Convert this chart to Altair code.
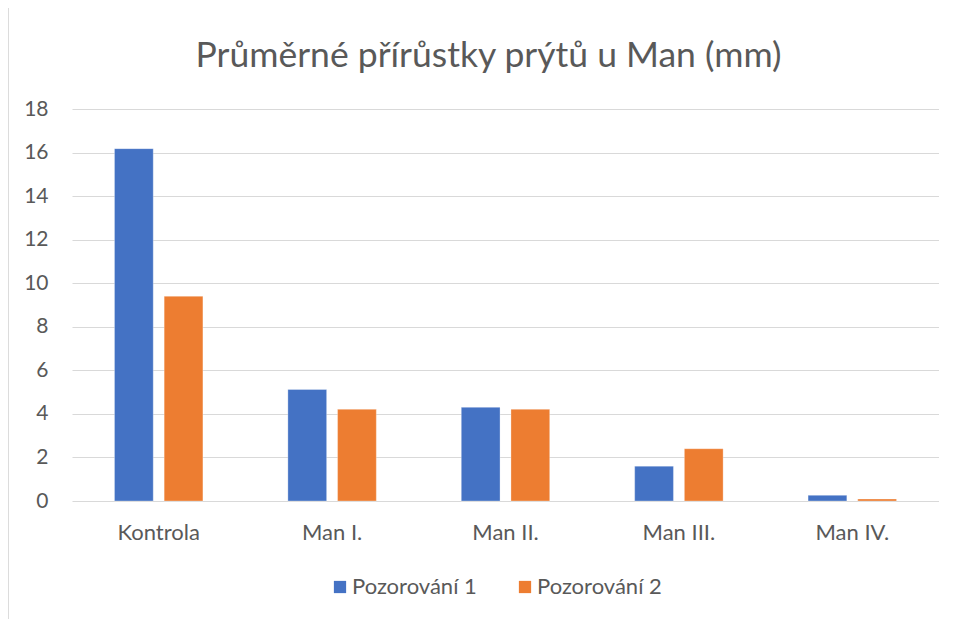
import altair as alt
import pandas as pd

categories = ["Kontrola", "Man I.", "Man II.", "Man III.", "Man IV."]
series_names = ["Pozorování 1", "Pozorování 2"]
pozorovani_1 = [16.18, 5.12, 4.30, 1.60, 0.26]
pozorovani_2 = [9.40, 4.21, 4.21, 2.40, 0.09]
y_ticks = [0, 2, 4, 6, 8, 10, 12, 14, 16, 18]
colors = ["#4472C4", "#ED7D31"]

rows = []
for i, c in enumerate(categories):
    rows.append({"kategorie": c, "serie": series_names[0], "hodnota": pozorovani_1[i]})
    rows.append({"kategorie": c, "serie": series_names[1], "hodnota": pozorovani_2[i]})
df = pd.DataFrame(rows)

FONT = "Lato"
TXT = "#595959"

bars = alt.Chart(df).mark_bar(stroke="white", strokeWidth=0.6, strokeOpacity=0.5).encode(
    x=alt.X("kategorie:N", sort=categories, title=None,
            scale=alt.Scale(paddingInner=0.49, paddingOuter=0.245),
            axis=alt.Axis(labelAngle=0, labelFontSize=22, labelColor=TXT, labelFont=FONT,
                          labelPadding=21, ticks=False, domain=False)),
    xOffset=alt.XOffset("serie:N", sort=series_names,
                        scale=alt.Scale(paddingInner=0.22, paddingOuter=0)),
    y=alt.Y("hodnota:Q", title=None,
            scale=alt.Scale(domain=[0, 18], nice=False),
            axis=alt.Axis(values=y_ticks, labelFontSize=21, labelColor=TXT, labelFont=FONT,
                          labelPadding=24, ticks=False, domain=False,
                          gridColor="#D9D9D9", gridWidth=1)),
    color=alt.Color("serie:N", sort=series_names,
                    scale=alt.Scale(domain=series_names, range=colors),
                    legend=alt.Legend(title=None, orient="none", direction="horizontal",
                                      legendX=257, legendY=467,
                                      symbolType="square", symbolSize=150,
                                      symbolStrokeWidth=0,
                                      labelFontSize=22, labelColor=TXT, labelFont=FONT,
                                      columnPadding=37, labelOffset=1)),
)

frame = alt.Chart(df).mark_rule(color="#D9D9D9", strokeWidth=1.5, strokeCap="butt").encode(
    x=alt.value(-64.5), y=alt.value(-101), y2=alt.value(520)
)

chart = alt.layer(bars, frame).properties(
    width=867,
    height=392,
    title=alt.TitleParams("Průměrné přírůstky prýtů u Man (mm)", fontSize=35.5,
                          font=FONT, color=TXT, fontWeight="normal",
                          anchor="middle", dx=-17, offset=29, dy=96),
    autosize=alt.AutoSizeParams(type="none"),
    padding={"left": 64, "top": 101, "right": 0, "bottom": 118},
).configure_view(stroke=None)

chart.save("out.html", embed_options={"renderer": "svg", "actions": False})
